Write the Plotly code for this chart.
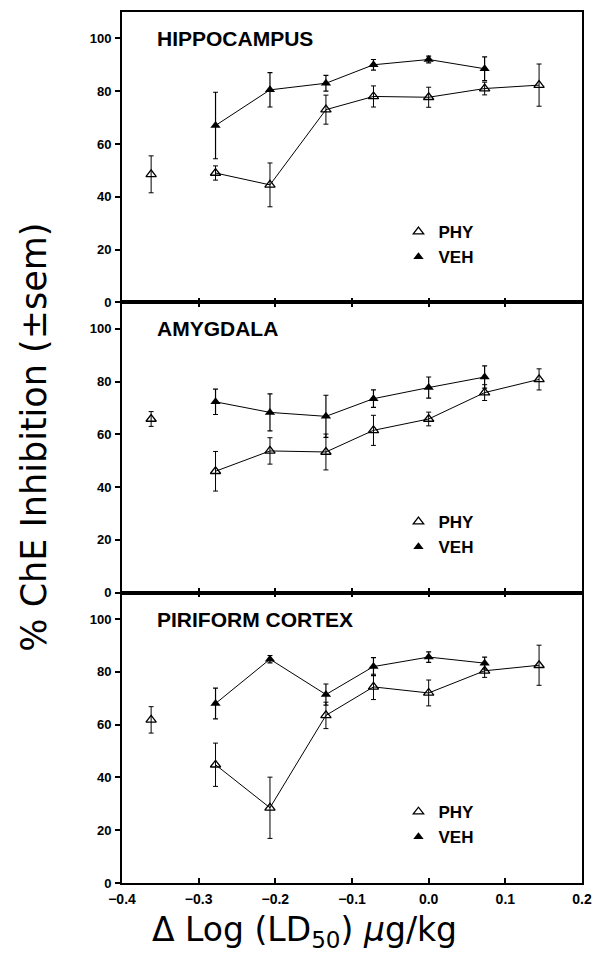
import plotly.graph_objects as go

# ---------------- data ----------------
x_dose = [-0.362, -0.278, -0.207, -0.134, -0.072, 0.0, 0.073, 0.144]
x_veh = x_dose[1:7]

regions = ["HIPPOCAMPUS", "AMYGDALA", "PIRIFORM CORTEX"]

hip_phy = [48.5, 49.0, 44.5, 73.0, 78.0, 77.7, 81.0, 82.3]
hip_phy_err = [7.0, 2.7, 8.3, 5.5, 4.0, 3.8, 2.4, 8.0]
hip_veh = [67.0, 80.5, 83.0, 90.0, 92.0, 88.5]
hip_veh_err = [12.6, 6.5, 3.0, 2.0, 1.3, 4.5]

amy_phy = [65.8, 46.0, 53.7, 53.3, 61.5, 65.8, 75.8, 80.8]
amy_phy_err = [2.8, 7.5, 5.0, 6.8, 5.7, 2.6, 3.0, 4.0]
amy_veh = [72.3, 68.3, 66.8, 73.5, 77.7, 81.7]
amy_veh_err = [4.8, 7.0, 8.0, 3.3, 4.0, 4.2]

pir_phy = [61.8, 44.8, 28.5, 63.5, 74.3, 72.0, 80.4, 82.5]
pir_phy_err = [5.0, 8.2, 11.6, 5.0, 4.8, 4.9, 2.5, 7.6]
pir_veh = [68.0, 84.8, 71.4, 82.0, 85.6, 83.3]
pir_veh_err = [5.8, 1.4, 4.0, 3.4, 2.0, 2.3]

x_ticks = [-0.4, -0.3, -0.2, -0.1, 0.0, 0.1, 0.2]
y_ticks = [0, 20, 40, 60, 80, 100]

panels = [
    (hip_phy, hip_phy_err, hip_veh, hip_veh_err),
    (amy_phy, amy_phy_err, amy_veh, amy_veh_err),
    (pir_phy, pir_phy_err, pir_veh, pir_veh_err),
]

# ---------------- figure ----------------
fig = go.Figure()
BLACK = "black"
n = 3
legend_names = ["legend", "legend2", "legend3"]

for i, (phy, phy_e, veh, veh_e) in enumerate(panels):
    xa = "x" if i == 0 else f"x{i+1}"
    ya = "y" if i == 0 else f"y{i+1}"
    lg = legend_names[i]
    # connecting lines (first PHY point stands alone)
    fig.add_trace(go.Scatter(x=x_dose[1:], y=phy[1:], mode="lines",
                             line=dict(color=BLACK, width=1), xaxis=xa, yaxis=ya,
                             showlegend=False, hoverinfo="skip"))
    fig.add_trace(go.Scatter(x=x_veh, y=veh, mode="lines",
                             line=dict(color=BLACK, width=1), xaxis=xa, yaxis=ya,
                             showlegend=False, hoverinfo="skip"))
    # markers + error bars
    fig.add_trace(go.Scatter(x=x_dose, y=phy, mode="markers", name="PHY",
                             marker=dict(symbol="triangle-up-open", size=9, color=BLACK,
                                         line=dict(width=1.3, color=BLACK)),
                             error_y=dict(type="data", array=phy_e, visible=True,
                                          color=BLACK, thickness=1, width=2.5),
                             xaxis=xa, yaxis=ya, legend=lg, showlegend=True))
    fig.add_trace(go.Scatter(x=x_veh, y=veh, mode="markers", name="VEH",
                             marker=dict(symbol="triangle-up", size=9, color=BLACK),
                             error_y=dict(type="data", array=veh_e, visible=True,
                                          color=BLACK, thickness=1.2, width=2.5),
                             xaxis=xa, yaxis=ya, legend=lg, showlegend=True))

tickfont = dict(family="Liberation Sans, Arial, sans-serif", size=13, color=BLACK, weight="bold")

layout = dict(
    width=602, height=966,
    margin=dict(l=122, r=13, t=10, b=83),
    paper_bgcolor="white", plot_bgcolor="white",
)

h = 1.0 / n
for i in range(n):
    suffix = "" if i == 0 else str(i + 1)
    top = 1 - i * h
    bottom = 1 - (i + 1) * h
    layout["xaxis" + suffix] = dict(
        domain=[0, 1], anchor="y" + suffix, range=[-0.4, 0.2],
        tickvals=x_ticks, tickformat=".1f", showticklabels=(i == n - 1),
        ticks="inside", ticklen=5, tickwidth=1.5, tickcolor=BLACK,
        showline=True, linecolor=BLACK, linewidth=1.6,
        mirror=(True if i == 0 else "ticks"),
        showgrid=False, zeroline=False, tickfont=dict(tickfont, size=14),
        ticklabelstandoff=2,
    )
    if i < n - 1:
        layout["xaxis" + suffix]["matches"] = "x" + str(n)
    layout["yaxis" + suffix] = dict(
        domain=[bottom, top], anchor="x" + suffix, range=[0, 110],
        tickvals=y_ticks, ticks="outside", ticklen=5, tickwidth=1.5, tickcolor=BLACK,
        showline=True, linecolor=BLACK, linewidth=2, mirror=True,
        showgrid=False, zeroline=False, tickfont=tickfont, ticklabelstandoff=1,
    )

# per-panel legends
leg_y = [0.768, 0.435, 0.102]
for i, lg in enumerate(legend_names):
    layout[lg] = dict(
        x=0.601, y=leg_y[i], xanchor="left", yanchor="top",
        bgcolor="rgba(0,0,0,0)", borderwidth=0,
        font=dict(family="Liberation Sans, Arial, sans-serif", size=17, color=BLACK,
                  weight="bold"),
        itemwidth=30, tracegroupgap=0,
    )

annotations = []
for i, name in enumerate(regions):
    suffix = "" if i == 0 else str(i + 1)
    annotations.append(dict(
        text=name, xref=f"x{suffix} domain", yref=f"y{suffix} domain",
        x=0.071, y=100 / 110, xanchor="left", yanchor="middle", showarrow=False,
        font=dict(family="Liberation Sans, Arial, sans-serif", size=21, color=BLACK,
                  weight="bold"),
    ))

annotations.append(dict(
    text="% ChE Inhibition (±sem)", xref="paper", yref="paper",
    x=-0.193, y=1 - (436.5 - 10) / 873, xanchor="center", yanchor="middle",
    textangle=-90, showarrow=False,
    font=dict(family="DejaVu Sans, sans-serif", size=35, color=BLACK),
))
annotations.append(dict(
    text="Δ Log (LD<sub>50</sub>) <i>μ</i>g/kg", xref="paper", yref="paper",
    x=(307.5 - 122) / 467, y=-(932 - 883) / 873, xanchor="center", yanchor="middle",
    showarrow=False,
    font=dict(family="DejaVu Sans, sans-serif", size=33, color=BLACK),
))
layout["annotations"] = annotations

fig.update_layout(**layout)
fig.write_html("out.html")
